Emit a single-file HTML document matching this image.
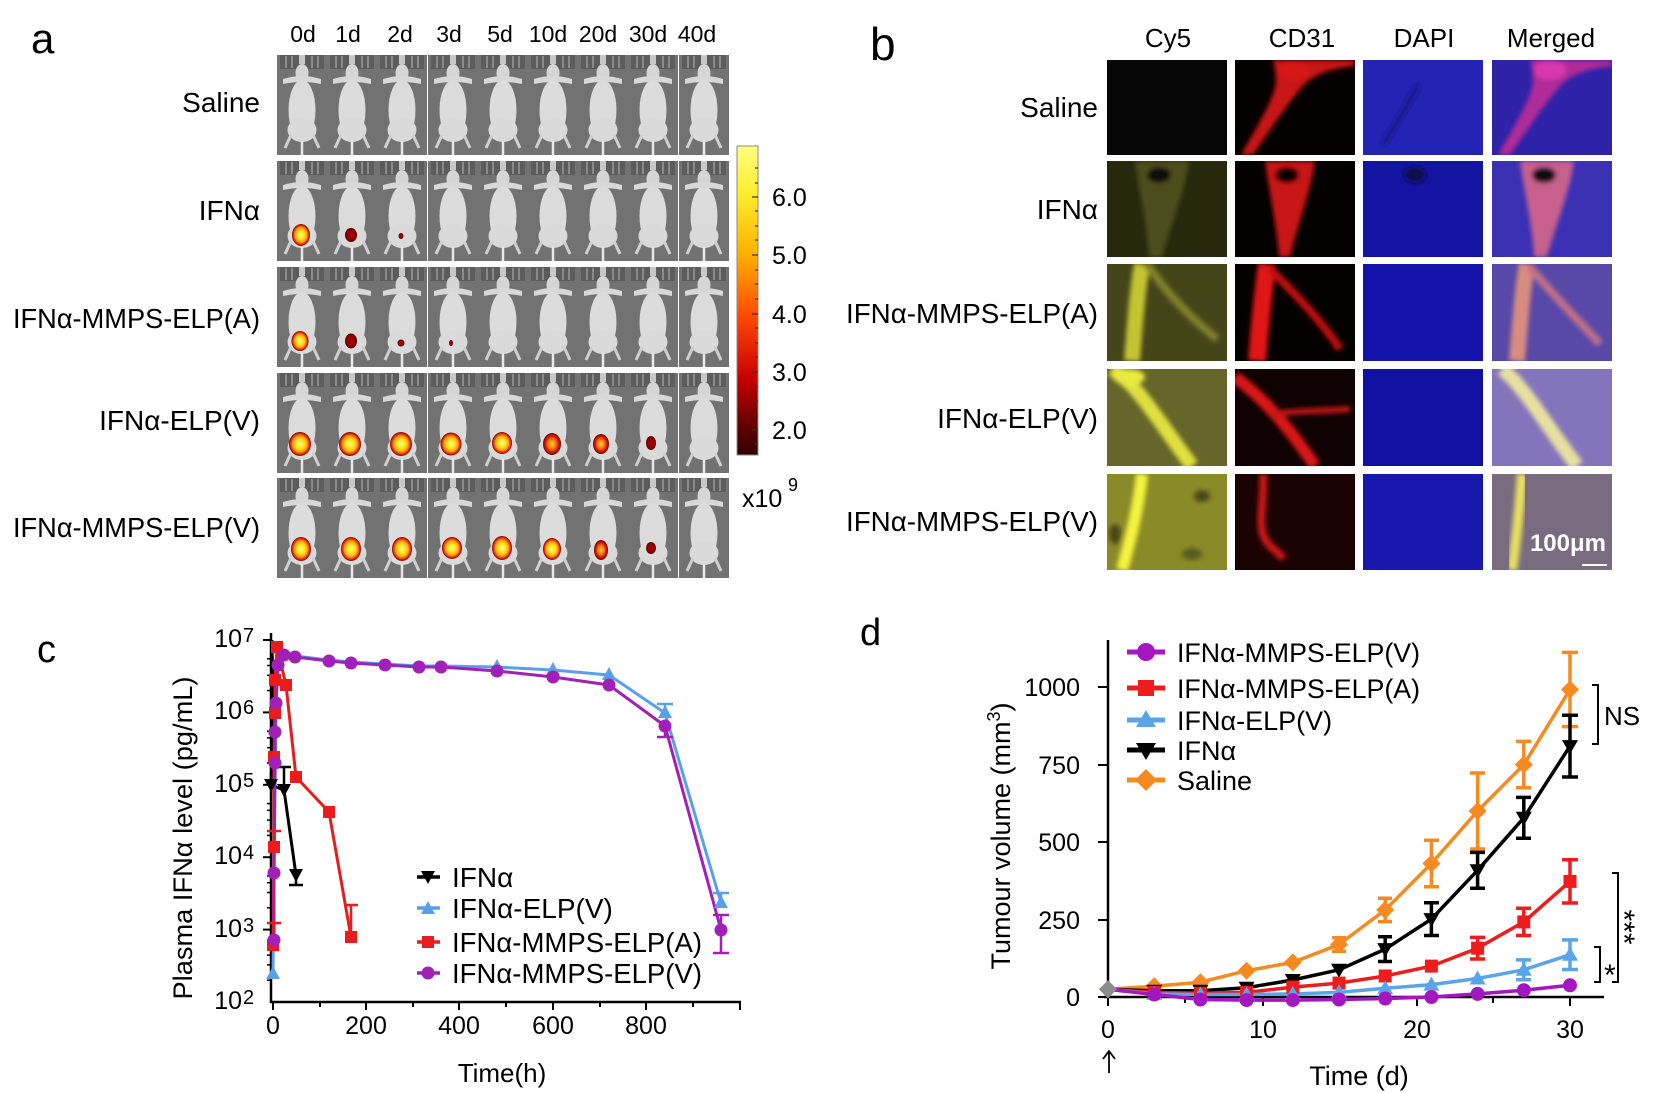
<!DOCTYPE html>
<html><head><meta charset="utf-8"><style>
html,body{margin:0;padding:0;background:#fff;}
svg{display:block;}
text{font-family:"Liberation Sans","DejaVu Sans",sans-serif;fill:#000;}
</style></head><body>
<svg width="1658" height="1093" viewBox="0 0 1658 1093" xmlns="http://www.w3.org/2000/svg">
<defs>
 <radialGradient id="hot"><stop offset="0" stop-color="#ffff70"/><stop offset="0.4" stop-color="#ffe020"/><stop offset="0.65" stop-color="#ffa010"/><stop offset="0.85" stop-color="#e03008"/><stop offset="1" stop-color="#800000"/></radialGradient>
 <radialGradient id="mid"><stop offset="0" stop-color="#ffd040"/><stop offset="0.4" stop-color="#ff8010"/><stop offset="0.75" stop-color="#d01808"/><stop offset="1" stop-color="#700000"/></radialGradient>
 <radialGradient id="dim"><stop offset="0" stop-color="#b00000"/><stop offset="0.7" stop-color="#900000"/><stop offset="1" stop-color="#500000"/></radialGradient>
 <linearGradient id="cb" x1="0" y1="0" x2="0" y2="1"><stop offset="0" stop-color="#ffff80"/><stop offset="0.15" stop-color="#ffee30"/><stop offset="0.35" stop-color="#ffb000"/><stop offset="0.55" stop-color="#ff4a00"/><stop offset="0.75" stop-color="#c80000"/><stop offset="0.92" stop-color="#5a0000"/><stop offset="1" stop-color="#300000"/></linearGradient>
 <filter id="bl" x="-30%" y="-30%" width="160%" height="160%"><feGaussianBlur stdDeviation="2.5"/></filter>
 <g id="m">
  <rect width="50" height="100" fill="#727272"/>
  <rect x="3" y="0" width="44" height="14" fill="#5c5c5c"/>
  <rect x="8" y="1" width="2" height="12" fill="#8a8a8a"/><rect x="14" y="1" width="2" height="12" fill="#8a8a8a"/>
  <rect x="34" y="1" width="2" height="12" fill="#8a8a8a"/><rect x="40" y="1" width="2" height="12" fill="#8a8a8a"/>
  <rect x="22" y="0" width="6" height="9" fill="#c8c8c8"/>
  <ellipse cx="25" cy="18" rx="6.5" ry="9" fill="#d6d6d6"/>
  <path d="M6 24 Q25 18 44 24 L44 29 Q25 25 6 29 Z" fill="#d8d8d8"/>
  <ellipse cx="25" cy="55" rx="13.5" ry="30" fill="#dcdcdc"/>
  <ellipse cx="25" cy="75" rx="14.5" ry="12" fill="#dadada"/>
  <path d="M14 80 L8 93 M36 80 L42 93" stroke="#d0d0d0" stroke-width="3" fill="none"/>
  <path d="M25 86 V100" stroke="#e8e8e8" stroke-width="2.5"/>
 </g>
 <path id="dia" d="M0,-9 L9,0 L0,9 L-9,0Z"/>
 <path id="tdn" d="M-8,-6 L8,-6 L0,8Z"/>
 <path id="sq" d="M-6.5,-6.5h13v13h-13Z"/>
 <path id="tup" d="M0,-8 L8,6 L-8,6Z"/>
 <circle id="cir" r="7"/>
 <path id="csq" d="M-6,-6h12v12h-12Z"/>
 <circle id="ccir" r="6.5"/>
 <path id="ctup" d="M0,-7 L7,6 L-7,6Z"/>
 <path id="ctdn" d="M-7,-6 L7,-6 L0,7Z"/>
</defs>

<!-- ============ PANEL A ============ -->
<text x="31" y="53" font-size="42">a</text>
<g font-size="23" text-anchor="middle">
 <text x="303" y="42">0d</text><text x="348" y="42">1d</text><text x="400" y="42">2d</text><text x="449" y="42">3d</text><text x="500" y="42">5d</text><text x="548" y="42">10d</text><text x="598" y="42">20d</text><text x="648" y="42">30d</text><text x="697" y="42">40d</text>
</g>
<g font-size="28" text-anchor="end">
 <text x="260" y="112">Saline</text>
 <text x="260" y="220">IFNα</text>
 <text x="260" y="328" textLength="247" lengthAdjust="spacingAndGlyphs">IFNα-MMPS-ELP(A)</text>
 <text x="260" y="430">IFNα-ELP(V)</text>
 <text x="260" y="537" textLength="247" lengthAdjust="spacingAndGlyphs">IFNα-MMPS-ELP(V)</text>
</g>
<!-- mice tiles -->
<g>
 <use href="#m" x="277" y="55"/><use href="#m" x="327" y="55"/><use href="#m" x="377" y="55"/><use href="#m" x="428" y="55"/><use href="#m" x="478" y="55"/><use href="#m" x="528" y="55"/><use href="#m" x="578" y="55"/><use href="#m" x="628" y="55"/><use href="#m" x="679" y="55"/>
 <use href="#m" x="277" y="161"/><use href="#m" x="327" y="161"/><use href="#m" x="377" y="161"/><use href="#m" x="428" y="161"/><use href="#m" x="478" y="161"/><use href="#m" x="528" y="161"/><use href="#m" x="578" y="161"/><use href="#m" x="628" y="161"/><use href="#m" x="679" y="161"/>
 <use href="#m" x="277" y="267"/><use href="#m" x="327" y="267"/><use href="#m" x="377" y="267"/><use href="#m" x="428" y="267"/><use href="#m" x="478" y="267"/><use href="#m" x="528" y="267"/><use href="#m" x="578" y="267"/><use href="#m" x="628" y="267"/><use href="#m" x="679" y="267"/>
 <use href="#m" x="277" y="373"/><use href="#m" x="327" y="373"/><use href="#m" x="377" y="373"/><use href="#m" x="428" y="373"/><use href="#m" x="478" y="373"/><use href="#m" x="528" y="373"/><use href="#m" x="578" y="373"/><use href="#m" x="628" y="373"/><use href="#m" x="679" y="373"/>
 <use href="#m" x="277" y="478"/><use href="#m" x="327" y="478"/><use href="#m" x="377" y="478"/><use href="#m" x="428" y="478"/><use href="#m" x="478" y="478"/><use href="#m" x="528" y="478"/><use href="#m" x="578" y="478"/><use href="#m" x="628" y="478"/><use href="#m" x="679" y="478"/>
</g>
<!-- spots -->
<g>
 <ellipse cx="301" cy="235" rx="9" ry="11" fill="url(#hot)"/>
 <ellipse cx="351" cy="235" rx="6" ry="7" fill="url(#dim)"/>
 <ellipse cx="401" cy="236" rx="2.5" ry="3" fill="url(#dim)"/>
 <ellipse cx="300" cy="341" rx="8.5" ry="10" fill="url(#hot)"/>
 <ellipse cx="351" cy="341" rx="6" ry="7.5" fill="url(#dim)"/>
 <ellipse cx="401" cy="343" rx="3.5" ry="3.5" fill="url(#dim)"/>
 <ellipse cx="451" cy="343" rx="2" ry="3" fill="url(#dim)"/>
 <ellipse cx="300" cy="444" rx="11" ry="12" fill="url(#hot)"/>
 <ellipse cx="350" cy="444" rx="11" ry="12" fill="url(#hot)"/>
 <ellipse cx="401" cy="444" rx="11" ry="12" fill="url(#hot)"/>
 <ellipse cx="451" cy="444" rx="10.5" ry="11.5" fill="url(#hot)"/>
 <ellipse cx="502" cy="443" rx="10" ry="11" fill="url(#hot)"/>
 <ellipse cx="552" cy="444" rx="9" ry="11" fill="url(#mid)"/>
 <ellipse cx="601" cy="444" rx="8" ry="10" fill="url(#mid)"/>
 <ellipse cx="651" cy="443" rx="5" ry="7" fill="url(#dim)"/>
 <ellipse cx="301" cy="549" rx="10" ry="12" fill="url(#hot)"/>
 <ellipse cx="351" cy="549" rx="10" ry="12" fill="url(#hot)"/>
 <ellipse cx="402" cy="549" rx="10" ry="12" fill="url(#hot)"/>
 <ellipse cx="452" cy="548" rx="10" ry="11" fill="url(#hot)"/>
 <ellipse cx="502" cy="548" rx="10" ry="12" fill="url(#hot)"/>
 <ellipse cx="552" cy="549" rx="9" ry="11" fill="url(#hot)"/>
 <ellipse cx="601" cy="550" rx="7" ry="10" fill="url(#mid)"/>
 <ellipse cx="651" cy="548" rx="5" ry="6" fill="url(#dim)"/>
</g>
<!-- colorbar -->
<rect x="737" y="146" width="21" height="309" fill="url(#cb)" stroke="#888" stroke-width="1"/>
<g stroke="#333" stroke-width="1.2">
 <line x1="752" y1="197" x2="758" y2="197"/><line x1="752" y1="255" x2="758" y2="255"/><line x1="752" y1="314" x2="758" y2="314"/><line x1="752" y1="372" x2="758" y2="372"/><line x1="752" y1="430" x2="758" y2="430"/>
 <line x1="755" y1="168" x2="758" y2="168"/><line x1="755" y1="183" x2="758" y2="183"/><line x1="755" y1="211" x2="758" y2="211"/><line x1="755" y1="226" x2="758" y2="226"/><line x1="755" y1="240" x2="758" y2="240"/><line x1="755" y1="270" x2="758" y2="270"/><line x1="755" y1="284" x2="758" y2="284"/><line x1="755" y1="299" x2="758" y2="299"/><line x1="755" y1="328" x2="758" y2="328"/><line x1="755" y1="343" x2="758" y2="343"/><line x1="755" y1="357" x2="758" y2="357"/><line x1="755" y1="387" x2="758" y2="387"/><line x1="755" y1="401" x2="758" y2="401"/><line x1="755" y1="416" x2="758" y2="416"/><line x1="755" y1="444" x2="758" y2="444"/>
</g>
<g font-size="25">
 <text x="772" y="206">6.0</text><text x="772" y="264">5.0</text><text x="772" y="323">4.0</text><text x="772" y="381">3.0</text><text x="772" y="439">2.0</text>
 <text x="742" y="507" font-size="25">x10</text><text x="788" y="491" font-size="18">9</text>
</g>

<!-- ============ PANEL B ============ -->
<text x="870" y="60" font-size="46">b</text>
<g font-size="26" text-anchor="middle">
 <text x="1168" y="47">Cy5</text><text x="1302" y="47">CD31</text><text x="1424" y="47">DAPI</text><text x="1551" y="47">Merged</text>
</g>
<g font-size="28" text-anchor="end">
 <text x="1098" y="117">Saline</text>
 <text x="1098" y="219">IFNα</text>
 <text x="1098" y="323" textLength="252" lengthAdjust="spacingAndGlyphs">IFNα-MMPS-ELP(A)</text>
 <text x="1098" y="428">IFNα-ELP(V)</text>
 <text x="1098" y="531" textLength="252" lengthAdjust="spacingAndGlyphs">IFNα-MMPS-ELP(V)</text>
</g>
<!-- row 1 -->
<svg x="1107" y="60" width="120" height="95" viewBox="0 0 120 95"><rect width="120" height="95" fill="#060606"/></svg>
<svg x="1235" y="60" width="120" height="95" viewBox="0 0 120 95"><rect width="120" height="95" fill="#050000"/><g filter="url(#bl)"><path d="M38 0 H120 V6 C100 8 85 12 72 22 C62 32 45 55 18 95 H6 C20 70 34 48 40 28 C42 18 40 8 38 0 Z" fill="#c81414"/><ellipse cx="58" cy="10" rx="16" ry="10" fill="#d81818"/></g></svg>
<svg x="1363" y="60" width="120" height="95" viewBox="0 0 120 95"><rect width="120" height="95" fill="#2424b4"/><g filter="url(#bl)"><path d="M55 25 C45 45 32 65 20 85" stroke="#181880" stroke-width="4" fill="none"/></g></svg>
<svg x="1492" y="60" width="120" height="95" viewBox="0 0 120 95"><rect width="120" height="95" fill="#2d22a8"/><g filter="url(#bl)"><path d="M38 0 H120 V6 C100 8 85 12 72 22 C62 32 45 55 18 95 H6 C20 70 34 48 40 28 C42 18 40 8 38 0 Z" fill="#b02a98"/><ellipse cx="58" cy="10" rx="16" ry="10" fill="#d838b0"/></g></svg>
<!-- row 2 -->
<svg x="1107" y="161" width="120" height="96" viewBox="0 0 120 96"><rect width="120" height="96" fill="#28280c"/><g filter="url(#bl)"><path d="M28 0 H82 C78 30 65 60 55 96 H42 C40 60 32 30 28 0 Z" fill="#4e4e1a"/><ellipse cx="52" cy="14" rx="12" ry="8" fill="#111"/></g></svg>
<svg x="1235" y="161" width="120" height="96" viewBox="0 0 120 96"><rect width="120" height="96" fill="#040000"/><g filter="url(#bl)"><path d="M30 0 H80 C76 30 64 60 55 96 H44 C41 60 34 30 30 0 Z" fill="#c81414"/><ellipse cx="52" cy="14" rx="12" ry="8" fill="#000"/></g></svg>
<svg x="1363" y="161" width="120" height="96" viewBox="0 0 120 96"><rect width="120" height="96" fill="#1414a2"/><g filter="url(#bl)"><ellipse cx="52" cy="14" rx="11" ry="8" fill="#0a0a50"/></g></svg>
<svg x="1492" y="161" width="120" height="96" viewBox="0 0 120 96"><rect width="120" height="96" fill="#3a30b4"/><g filter="url(#bl)"><path d="M28 0 H82 C78 30 65 60 55 96 H42 C40 60 32 30 28 0 Z" fill="#c8608e"/><ellipse cx="52" cy="14" rx="12" ry="8" fill="#111"/></g></svg>
<!-- row 3 -->
<svg x="1107" y="264" width="120" height="97" viewBox="0 0 120 97"><rect width="120" height="97" fill="#45451a"/><g filter="url(#bl)" fill="none"><path d="M25 97 C28 60 30 30 35 0" stroke="#c4c430" stroke-width="16"/><path d="M40 0 C60 30 85 55 110 75" stroke="#80802a" stroke-width="8"/></g></svg>
<svg x="1235" y="264" width="120" height="97" viewBox="0 0 120 97"><rect width="120" height="97" fill="#050000"/><g filter="url(#bl)" fill="none"><path d="M22 97 C25 60 28 30 32 0" stroke="#e01515" stroke-width="18"/><path d="M35 5 C60 30 85 55 105 85" stroke="#c01010" stroke-width="8"/></g></svg>
<svg x="1363" y="264" width="120" height="97" viewBox="0 0 120 97"><rect width="120" height="97" fill="#1414aa"/></svg>
<svg x="1492" y="264" width="120" height="97" viewBox="0 0 120 97"><rect width="120" height="97" fill="#5848a8"/><g filter="url(#bl)" fill="none"><path d="M25 97 C28 60 30 30 35 0" stroke="#d88c80" stroke-width="16"/><path d="M38 3 C60 30 85 55 108 80" stroke="#c07088" stroke-width="8"/></g></svg>
<!-- row 4 -->
<svg x="1107" y="369" width="120" height="97" viewBox="0 0 120 97"><rect width="120" height="97" fill="#66662a"/><g filter="url(#bl)" fill="none"><path d="M5 0 C30 15 50 50 85 97" stroke="#e0e040" stroke-width="14"/><ellipse cx="22" cy="8" rx="16" ry="8" fill="#eaea40"/></g></svg>
<svg x="1235" y="369" width="120" height="97" viewBox="0 0 120 97"><rect width="120" height="97" fill="#100202"/><g filter="url(#bl)" fill="none"><path d="M0 8 C30 30 55 60 80 97" stroke="#d81818" stroke-width="12"/><path d="M35 45 C60 42 90 42 115 40" stroke="#c01212" stroke-width="6"/></g></svg>
<svg x="1363" y="369" width="120" height="97" viewBox="0 0 120 97"><rect width="120" height="97" fill="#1010a2"/></svg>
<svg x="1492" y="369" width="120" height="97" viewBox="0 0 120 97"><rect width="120" height="97" fill="#8474bc"/><g filter="url(#bl)" fill="none"><path d="M10 0 C30 15 50 50 85 97" stroke="#e8e0a0" stroke-width="14"/></g></svg>
<!-- row 5 -->
<svg x="1107" y="474" width="120" height="96" viewBox="0 0 120 96"><rect width="120" height="96" fill="#8a8a28"/><g filter="url(#bl)"><ellipse cx="95" cy="22" rx="8" ry="6" fill="#4a4a14"/><ellipse cx="85" cy="80" rx="10" ry="6" fill="#5a5a1c"/><ellipse cx="8" cy="60" rx="6" ry="10" fill="#4a4a14"/><path d="M35 0 C32 30 25 60 15 96" stroke="#f4f440" stroke-width="12" fill="none"/></g></svg>
<svg x="1235" y="474" width="120" height="96" viewBox="0 0 120 96"><rect width="120" height="96" fill="#1c0303"/><g filter="url(#bl)"><path d="M28 0 C30 25 22 50 30 65 C35 75 45 78 48 85" stroke="#c81414" stroke-width="8" fill="none"/></g></svg>
<svg x="1363" y="474" width="120" height="96" viewBox="0 0 120 96"><rect width="120" height="96" fill="#1818b0"/></svg>
<svg x="1492" y="474" width="120" height="96" viewBox="0 0 120 96"><rect width="120" height="96" fill="#7a6c80"/><g filter="url(#bl)"><path d="M30 0 C28 30 25 60 20 96" stroke="#e8e060" stroke-width="10" fill="none"/></g></svg>
<text x="1568" y="551" font-size="24" font-weight="bold" text-anchor="middle" style="fill:#fff">100μm</text>
<line x1="1582" y1="565" x2="1607" y2="565" stroke="#fff" stroke-width="2"/>

<!-- ============ PANEL C ============ -->
<text x="37" y="662" font-size="38">c</text>
<g stroke="#000" stroke-width="2.5" fill="none">
 <line x1="271" y1="633" x2="271" y2="1003"/>
 <line x1="270" y1="1002" x2="741" y2="1002"/>
</g>
<g stroke="#000" stroke-width="2">
 <line x1="273" y1="1002" x2="273" y2="1010"/><line x1="366" y1="1002" x2="366" y2="1010"/><line x1="459" y1="1002" x2="459" y2="1010"/><line x1="553" y1="1002" x2="553" y2="1010"/><line x1="646" y1="1002" x2="646" y2="1010"/><line x1="740" y1="1002" x2="740" y2="1010"/>
 <line x1="320" y1="1002" x2="320" y2="1007"/><line x1="413" y1="1002" x2="413" y2="1007"/><line x1="506" y1="1002" x2="506" y2="1007"/><line x1="600" y1="1002" x2="600" y2="1007"/><line x1="693" y1="1002" x2="693" y2="1007"/>
 <line x1="263" y1="640" x2="271" y2="640"/><line x1="263" y1="712.4" x2="271" y2="712.4"/><line x1="263" y1="784.8" x2="271" y2="784.8"/><line x1="263" y1="857.2" x2="271" y2="857.2"/><line x1="263" y1="929.6" x2="271" y2="929.6"/>
</g>
<g stroke="#000" stroke-width="1.5">
 <line x1="267" y1="690.6" x2="271" y2="690.6"/><line x1="267" y1="675.3" x2="271" y2="675.3"/><line x1="267" y1="665.5" x2="271" y2="665.5"/><line x1="267" y1="658.8" x2="271" y2="658.8"/>
 <line x1="267" y1="763" x2="271" y2="763"/><line x1="267" y1="747.7" x2="271" y2="747.7"/><line x1="267" y1="737.9" x2="271" y2="737.9"/><line x1="267" y1="731.2" x2="271" y2="731.2"/>
 <line x1="267" y1="835.4" x2="271" y2="835.4"/><line x1="267" y1="820.1" x2="271" y2="820.1"/><line x1="267" y1="810.3" x2="271" y2="810.3"/><line x1="267" y1="803.6" x2="271" y2="803.6"/>
 <line x1="267" y1="907.8" x2="271" y2="907.8"/><line x1="267" y1="892.5" x2="271" y2="892.5"/><line x1="267" y1="882.7" x2="271" y2="882.7"/><line x1="267" y1="876" x2="271" y2="876"/>
 <line x1="267" y1="980.2" x2="271" y2="980.2"/><line x1="267" y1="964.9" x2="271" y2="964.9"/><line x1="267" y1="955.1" x2="271" y2="955.1"/><line x1="267" y1="948.4" x2="271" y2="948.4"/>
</g>
<g font-size="25">
 <text x="242" y="647" text-anchor="end">10</text><text x="243" y="642" font-size="20">7</text>
 <text x="242" y="719" text-anchor="end">10</text><text x="243" y="714" font-size="20">6</text>
 <text x="242" y="792" text-anchor="end">10</text><text x="243" y="787" font-size="20">5</text>
 <text x="242" y="864" text-anchor="end">10</text><text x="243" y="859" font-size="20">4</text>
 <text x="242" y="937" text-anchor="end">10</text><text x="243" y="932" font-size="20">3</text>
 <text x="242" y="1009" text-anchor="end">10</text><text x="243" y="1004" font-size="20">2</text>
</g>
<g font-size="25" text-anchor="middle">
 <text x="273" y="1034">0</text><text x="366" y="1034">200</text><text x="459" y="1034">400</text><text x="553" y="1034">600</text><text x="646" y="1034">800</text>
</g>
<text x="502" y="1082" font-size="26" text-anchor="middle">Time(h)</text>
<text transform="translate(192,838) rotate(-90)" font-size="27" text-anchor="middle" textLength="323" lengthAdjust="spacingAndGlyphs">Plasma IFNα level (pg/mL)</text>
<g fill="none" stroke-width="3" stroke-linejoin="round">
 <polyline stroke="#5aa0e8" points="273,973 274,880 275,790 276,720 277,665 284,654 295,656 329,660 351,662 385,664 419,666 441,666 497,667 553,670 609,675 665,713 721,903"/>
 <polyline stroke="#000" points="272,640 273,700 271,785 284,790 296,875"/>
 <polyline stroke="#e81c1c" points="273,945 274,847 274,757 275,713 275,680 277,647 286,685 296,777 329,812 351,937"/>
 <polyline stroke="#a020b8" points="274,940 274,873 275,763 275,732 276,703 278,665 284,655 295,657 329,661 351,663 385,665 419,667 441,667 497,671 553,677 609,685 665,726 721,930"/>
</g>
<g stroke-width="2.5" fill="none">
 <path stroke="#000" d="M284 790V767M277 767H291M296 875V885M289 885H303"/>
 <path stroke="#e81c1c" d="M351 937V905M344 905H358M274 847V831M267 831H281M274 945V923M267 923H281"/>
 <path stroke="#5aa0e8" d="M665 713V704M657 704H673M721 903V893M713 893H729"/>
 <path stroke="#a020b8" d="M665 726V737M657 737H673M721 915V953M713 915H729M713 953H729"/>
</g>
<g fill="#5aa0e8"><use href="#ctup" x="273" y="973"/><use href="#ctup" x="497" y="666"/><use href="#ctup" x="553" y="669"/><use href="#ctup" x="609" y="674"/><use href="#ctup" x="665" y="712"/><use href="#ctup" x="721" y="902"/></g>
<g fill="#000"><use href="#ctdn" x="271" y="785"/><use href="#ctdn" x="284" y="790"/><use href="#ctdn" x="296" y="875"/></g>
<g fill="#e81c1c"><use href="#csq" x="273" y="945"/><use href="#csq" x="274" y="847"/><use href="#csq" x="274" y="757"/><use href="#csq" x="275" y="713"/><use href="#csq" x="275" y="680"/><use href="#csq" x="277" y="647"/><use href="#csq" x="286" y="685"/><use href="#csq" x="296" y="777"/><use href="#csq" x="329" y="812"/><use href="#csq" x="351" y="937"/></g>
<g fill="#a020b8"><use href="#ccir" x="274" y="940"/><use href="#ccir" x="274" y="873"/><use href="#ccir" x="275" y="763"/><use href="#ccir" x="275" y="732"/><use href="#ccir" x="276" y="703"/><use href="#ccir" x="278" y="665"/><use href="#ccir" x="284" y="655"/><use href="#ccir" x="295" y="657"/><use href="#ccir" x="329" y="661"/><use href="#ccir" x="351" y="663"/><use href="#ccir" x="385" y="665"/><use href="#ccir" x="419" y="667"/><use href="#ccir" x="441" y="667"/><use href="#ccir" x="497" y="671"/><use href="#ccir" x="553" y="677"/><use href="#ccir" x="609" y="685"/><use href="#ccir" x="665" y="726"/><use href="#ccir" x="721" y="930"/></g>
<g stroke-width="3.5">
 <line x1="417" y1="877" x2="440" y2="877" stroke="#000"/><use href="#ctdn" x="428" y="877" fill="#000"/>
 <line x1="417" y1="908" x2="440" y2="908" stroke="#5aa0e8"/><use href="#ctup" x="428" y="908" fill="#5aa0e8"/>
 <line x1="417" y1="942" x2="440" y2="942" stroke="#e81c1c"/><use href="#csq" x="428" y="942" fill="#e81c1c"/>
 <line x1="417" y1="973" x2="440" y2="973" stroke="#a020b8"/><use href="#ccir" x="428" y="973" fill="#a020b8"/>
</g>
<g font-size="28">
 <text x="452" y="887">IFNα</text>
 <text x="452" y="918">IFNα-ELP(V)</text>
 <text x="452" y="952" textLength="250" lengthAdjust="spacingAndGlyphs">IFNα-MMPS-ELP(A)</text>
 <text x="452" y="983" textLength="250" lengthAdjust="spacingAndGlyphs">IFNα-MMPS-ELP(V)</text>
</g>

<!-- ============ PANEL D ============ -->
<text x="860" y="645" font-size="38">d</text>
<g stroke="#000" stroke-width="2.5" fill="none">
 <line x1="1108" y1="640" x2="1108" y2="998"/>
 <line x1="1104" y1="997" x2="1604" y2="997"/>
</g>
<g stroke="#000" stroke-width="2">
 <line x1="1098" y1="687" x2="1108" y2="687"/><line x1="1098" y1="765" x2="1108" y2="765"/><line x1="1098" y1="842" x2="1108" y2="842"/><line x1="1098" y1="920" x2="1108" y2="920"/><line x1="1098" y1="997" x2="1108" y2="997"/>
 <line x1="1108" y1="997" x2="1108" y2="1006"/><line x1="1263" y1="997" x2="1263" y2="1006"/><line x1="1417" y1="997" x2="1417" y2="1006"/><line x1="1570" y1="997" x2="1570" y2="1006"/>
 <line x1="1185" y1="997" x2="1185" y2="1003"/><line x1="1339" y1="997" x2="1339" y2="1003"/><line x1="1493" y1="997" x2="1493" y2="1003"/>
</g>
<g font-size="25" text-anchor="end">
 <text x="1080" y="696">1000</text><text x="1080" y="774">750</text><text x="1080" y="851">500</text><text x="1080" y="929">250</text><text x="1080" y="1006">0</text>
</g>
<g font-size="25" text-anchor="middle">
 <text x="1108" y="1038">0</text><text x="1263" y="1038">10</text><text x="1417" y="1038">20</text><text x="1570" y="1038">30</text>
</g>
<path d="M1109 1073 V1051 M1103 1059 L1109 1051 L1115 1059" stroke="#000" stroke-width="1.8" fill="none"/>
<text x="1359" y="1085" font-size="27" text-anchor="middle">Time (d)</text>
<text transform="translate(1010,836) rotate(-90)" font-size="27" text-anchor="middle">Tumour volume (mm<tspan font-size="18" dy="-10">3</tspan><tspan dy="10">)</tspan></text>
<g fill="none" stroke-width="3.5" stroke-linejoin="round">
 <polyline stroke="#f6891f" points="1108,989.3 1154.2,986.2 1200.4,982.2 1246.6,970.7 1292.8,962.4 1339,944.5 1385.2,909.9 1431.4,863.5 1477.6,811 1523.8,764.6 1570,689.5"/>
 <polyline stroke="#000" points="1108,989.3 1154.2,990.8 1200.4,990.8 1246.6,987.7 1292.8,980 1339,969.8 1385.2,949.1 1431.4,919.1 1477.6,870.3 1523.8,817.8 1570,746.1"/>
 <polyline stroke="#ee1c1c" points="1108,989.3 1154.2,992.4 1200.4,993.3 1246.6,992.4 1292.8,987.1 1339,983.1 1385.2,976 1431.4,966.1 1477.6,948.2 1523.8,921.9 1570,881.4"/>
 <polyline stroke="#5aa5ea" points="1108,989.3 1154.2,993.9 1200.4,994.5 1246.6,994.5 1292.8,993.9 1339,992.4 1385.2,988.3 1431.4,984.6 1477.6,978.5 1523.8,969.8 1570,954.7"/>
 <polyline stroke="#a416c0" points="1108,989.3 1154.2,994.5 1200.4,999.5 1246.6,1000.1 1292.8,1000.1 1339,999.5 1385.2,998.5 1431.4,997 1477.6,993.9 1523.8,990.2 1570,985.3"/>
</g>
<g fill="none" stroke-width="3.5">
 <path stroke="#f6891f" d="M1339 937.7V951.3M1332 937.7H1346M1332 951.3H1346 M1385.2 898.2V921.6M1378 898.2H1392M1378 921.6H1392 M1431.4 840.3V886.7M1424 840.3H1439M1424 886.7H1439 M1477.6 773V849M1470 773H1485M1470 849H1485 M1523.8 741.4V787.8M1516 741.4H1531M1516 787.8H1531 M1570 652.4V726.6M1562 652.4H1578M1562 726.6H1578"/>
 <path stroke="#000" d="M1385.2 936.7V961.5M1378 936.7H1392M1378 961.5H1392 M1431.4 902.7V935.5M1424 902.7H1439M1424 935.5H1439 M1477.6 852.4V888.2M1470 852.4H1485M1470 888.2H1485 M1523.8 797.4V838.2M1516 797.4H1531M1516 838.2H1531 M1570 715.2V777M1562 715.2H1578M1562 777H1578"/>
 <path stroke="#ee1c1c" d="M1477.6 937.4V959M1470 937.4H1485M1470 959H1485 M1523.8 908.3V935.5M1516 908.3H1531M1516 935.5H1531 M1570 859.8V903M1562 859.8H1578M1562 903H1578"/>
 <path stroke="#5aa5ea" d="M1523.8 959.9V979.7M1516 959.9H1531M1516 979.7H1531 M1570 939.9V969.5M1562 939.9H1578M1562 969.5H1578"/>
</g>
<g fill="#f6891f"><use href="#dia" x="1108" y="989.3"/><use href="#dia" x="1154.2" y="986.2"/><use href="#dia" x="1200.4" y="982.2"/><use href="#dia" x="1246.6" y="970.7"/><use href="#dia" x="1292.8" y="962.4"/><use href="#dia" x="1339" y="944.5"/><use href="#dia" x="1385.2" y="909.9"/><use href="#dia" x="1431.4" y="863.5"/><use href="#dia" x="1477.6" y="811"/><use href="#dia" x="1523.8" y="764.6"/><use href="#dia" x="1570" y="689.5"/></g>
<g fill="#000"><use href="#tdn" x="1154.2" y="990.8"/><use href="#tdn" x="1200.4" y="990.8"/><use href="#tdn" x="1246.6" y="987.7"/><use href="#tdn" x="1292.8" y="980"/><use href="#tdn" x="1339" y="969.8"/><use href="#tdn" x="1385.2" y="949.1"/><use href="#tdn" x="1431.4" y="919.1"/><use href="#tdn" x="1477.6" y="870.3"/><use href="#tdn" x="1523.8" y="817.8"/><use href="#tdn" x="1570" y="746.1"/></g>
<g fill="#ee1c1c"><use href="#sq" x="1154.2" y="992.4"/><use href="#sq" x="1200.4" y="993.3"/><use href="#sq" x="1246.6" y="992.4"/><use href="#sq" x="1292.8" y="987.1"/><use href="#sq" x="1339" y="983.1"/><use href="#sq" x="1385.2" y="976"/><use href="#sq" x="1431.4" y="966.1"/><use href="#sq" x="1477.6" y="948.2"/><use href="#sq" x="1523.8" y="921.9"/><use href="#sq" x="1570" y="881.4"/></g>
<g fill="#5aa5ea"><use href="#tup" x="1154.2" y="993.9"/><use href="#tup" x="1200.4" y="994.5"/><use href="#tup" x="1246.6" y="994.5"/><use href="#tup" x="1292.8" y="993.9"/><use href="#tup" x="1339" y="992.4"/><use href="#tup" x="1385.2" y="988.3"/><use href="#tup" x="1431.4" y="984.6"/><use href="#tup" x="1477.6" y="978.5"/><use href="#tup" x="1523.8" y="969.8"/><use href="#tup" x="1570" y="954.7"/></g>
<g fill="#a416c0"><use href="#cir" x="1154.2" y="994.5"/><use href="#cir" x="1200.4" y="999.5"/><use href="#cir" x="1246.6" y="1000.1"/><use href="#cir" x="1292.8" y="1000.1"/><use href="#cir" x="1339" y="999.5"/><use href="#cir" x="1385.2" y="998.5"/><use href="#cir" x="1431.4" y="997"/><use href="#cir" x="1477.6" y="993.9"/><use href="#cir" x="1523.8" y="990.2"/><use href="#cir" x="1570" y="985.3"/></g>
<use href="#dia" x="1108" y="989.3" fill="#8c8c8c"/>
<g stroke="#000" stroke-width="2" fill="none">
 <path d="M1592 685H1598V744H1592"/>
 <path d="M1612 873H1618V982H1612"/>
 <path d="M1594 947H1600V982H1594"/>
</g>
<text x="1604" y="725" font-size="26">NS</text>
<text x="1604" y="985" font-size="30">*</text>
<text transform="translate(1614,927) rotate(90)" font-size="30" text-anchor="middle">***</text>
<g stroke-width="5">
 <line x1="1127" y1="652" x2="1165" y2="652" stroke="#a416c0"/><circle cx="1146" cy="652" r="9" fill="#a416c0"/>
 <line x1="1127" y1="688" x2="1165" y2="688" stroke="#ee1c1c"/><rect x="1138" y="680" width="16" height="16" fill="#ee1c1c" stroke="none"/>
 <line x1="1127" y1="720" x2="1165" y2="720" stroke="#5aa5ea"/><path d="M1146 710 L1156 727 L1136 727Z" fill="#5aa5ea" stroke="none"/>
 <line x1="1127" y1="750" x2="1165" y2="750" stroke="#000"/><path d="M1136 743 L1156 743 L1146 760Z" fill="#000" stroke="none"/>
 <line x1="1127" y1="780" x2="1165" y2="780" stroke="#f6891f"/><path d="M1146 769 L1157 780 L1146 791 L1135 780Z" fill="#f6891f" stroke="none"/>
</g>
<g font-size="27">
 <text x="1177" y="662" textLength="243" lengthAdjust="spacingAndGlyphs">IFNα-MMPS-ELP(V)</text>
 <text x="1177" y="698" textLength="243" lengthAdjust="spacingAndGlyphs">IFNα-MMPS-ELP(A)</text>
 <text x="1177" y="730">IFNα-ELP(V)</text>
 <text x="1177" y="760">IFNα</text>
 <text x="1177" y="790">Saline</text>
</g>
</svg>
</body></html>
